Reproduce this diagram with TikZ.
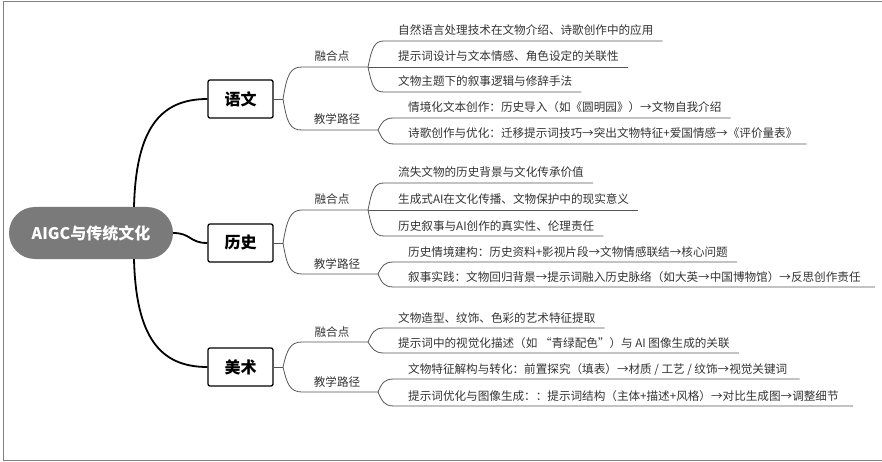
\documentclass[tikz,border=0pt]{standalone}
\usepackage{fontspec}
\setmainfont{Noto Sans CJK SC}
\usetikzlibrary{calc}
\definecolor{txt}{HTML}{333333}
\definecolor{ln}{HTML}{555555}
\definecolor{pillc}{HTML}{7A7A7A}
\definecolor{framec}{HTML}{808080}
\begin{document}
\begin{tikzpicture}[x=1pt,y=-1pt,
  item/.style={font=\fontsize{11.6}{13}\selectfont, text=txt, inner sep=0pt, anchor=base west},
  lab/.style={font=\fontsize{11.6}{13}\selectfont, text=txt, inner sep=0pt, anchor=base},
  subj/.style={draw=black, line width=1.3pt, rounded corners=2pt, fill=white, minimum width=65pt, minimum height=38pt, inner sep=0pt, font=\bfseries\fontsize{16}{18}\selectfont},
  root/.style={fill=pillc, rounded corners=26pt, minimum width=164pt, minimum height=52pt, text=white, font=\bfseries\fontsize{16}{18}\selectfont, inner sep=0pt},
  trunk/.style={line width=1.8pt, black},
  thin/.style={line width=0.8pt, ln},
]
\useasboundingbox (0,0) rectangle (882,462);
\draw[framec, line width=0.9pt] (882,1) -- (3.5,1) -- (3.5,460.5) -- (882,460.5);

% root and subjects
\node[root] (root) at (91,233) {AIGC与传统文化};
\node[subj] (yw) at (240.5,99) {语文};
\node[subj] (ls) at (240.5,243) {历史};
\node[subj] (ms) at (240.5,367) {美术};

\draw[trunk] ([xshift=43pt]root.north) .. controls +(2,-77) and +(-48,0) .. (yw.west);
\draw[trunk] (root.east) .. controls +(18,0) and +(-18,0) .. (ls.west);
\draw[trunk] ([xshift=43pt]root.south) .. controls +(2,77) and +(-48,0) .. (ms.west);

% ================= 语文 =================
\coordinate (yw-j) at (283,99);
\coordinate (yw-rj) at (368,67);
\coordinate (yw-tj) at (378,130);
\draw[thin] (yw.east) -- (yw-j);
\draw[thin] (yw-j) .. controls (287,75) and (290,67) .. (302,67) -- (yw-rj);
\draw[thin] (yw-j) .. controls (287,123) and (290,130) .. (302,130) -- (yw-tj);
\node[lab] (yw-r) at (332,61) {融合点};
\node[lab] (yw-t) at (337,124) {教学路径};

\node[item] (yw1) at (398,35) {自然语言处理技术在文物介绍、诗歌创作中的应用};
\node[item] (yw2) at (398,61) {提示词设计与文本情感、角色设定的关联性};
\node[item] (yw3) at (398,86) {文物主题下的叙事逻辑与修辞手法};
\node[item] (yw4) at (408,112) {情境化文本创作：历史导入（如《圆明园》）→文物自我介绍};
\node[item] (yw5) at (408,138) {诗歌创作与优化：迁移提示词技巧→突出文物特征+爱国情感→《评价量表》};
\draw[thin] (yw-rj) .. controls (372,48) and (374,41) .. (384,41) -- ($(yw1.base east)+(9,6)$);
\draw[thin] (yw-rj) -- ($(yw2.base east)+(9,6)$);
\draw[thin] (yw-rj) .. controls (372,86) and (374,92) .. (384,92) -- ($(yw3.base east)+(9,6)$);
\draw[thin] (yw-tj) .. controls (382,122) and (384,118) .. (394,118) -- ($(yw4.base east)+(9,6)$);
\draw[thin] (yw-tj) .. controls (382,138) and (384,144) .. (394,144) -- ($(yw5.base east)+(9,6)$);

% ================= 历史 =================
\coordinate (ls-j) at (283,243);
\coordinate (ls-rj) at (368,210);
\coordinate (ls-tj) at (378,274);
\draw[thin] (ls.east) -- (ls-j);
\draw[thin] (ls-j) .. controls (287,220) and (290,210) .. (302,210) -- (ls-rj);
\draw[thin] (ls-j) .. controls (287,266) and (290,274) .. (302,274) -- (ls-tj);
\node[lab] (ls-r) at (332,204) {融合点};
\node[lab] (ls-t) at (337,268) {教学路径};

\node[item] (ls1) at (398,177) {流失文物的历史背景与文化传承价值};
\node[item] (ls2) at (398,204) {生成式AI在文化传播、文物保护中的现实意义};
\node[item] (ls3) at (398,230) {历史叙事与AI创作的真实性、伦理责任};
\node[item] (ls4) at (408,256) {历史情境建构：历史资料+影视片段→文物情感联结→核心问题};
\node[item] (ls5) at (408,281) {叙事实践：文物回归背景→提示词融入历史脉络（如大英→中国博物馆）→反思创作责任};
\draw[thin] (ls-rj) .. controls (372,190) and (374,183) .. (384,183) -- ($(ls1.base east)+(9,6)$);
\draw[thin] (ls-rj) -- ($(ls2.base east)+(9,6)$);
\draw[thin] (ls-rj) .. controls (372,229) and (374,236) .. (384,236) -- ($(ls3.base east)+(9,6)$);
\draw[thin] (ls-tj) .. controls (382,266) and (384,262) .. (394,262) -- ($(ls4.base east)+(9,6)$);
\draw[thin] (ls-tj) .. controls (382,283) and (384,287) .. (394,287) -- ($(ls5.base east)+(14,6)$);

% ================= 美术 =================
\coordinate (ms-j) at (283,367);
\coordinate (ms-rj) at (368,342);
\coordinate (ms-tj) at (378,392);
\draw[thin] (ms.east) -- (ms-j);
\draw[thin] (ms-j) .. controls (287,350) and (290,342) .. (302,342) -- (ms-rj);
\draw[thin] (ms-j) .. controls (287,384) and (290,392) .. (302,392) -- (ms-tj);
\node[lab] (ms-r) at (332,336) {融合点};
\node[lab] (ms-t) at (337,386) {教学路径};

\node[item] (ms1) at (398,322) {文物造型、纹饰、色彩的艺术特征提取};
\node[item] (ms2) at (398,347) {提示词中的视觉化描述（如 “青绿配色”）与 AI 图像生成的关联};
\node[item] (ms3) at (408,373) {文物特征解构与转化：前置探究（填表）→材质 / 工艺 / 纹饰→视觉关键词};
\node[item] (ms4) at (408,400) {提示词优化与图像生成：：提示词结构（主体+描述+风格）→对比生成图→调整细节};
\draw[thin] (ms-rj) .. controls (372,333) and (374,328) .. (384,328) -- ($(ms1.base east)+(9,6)$);
\draw[thin] (ms-rj) .. controls (372,348) and (374,353) .. (384,353) -- ($(ms2.base east)+(9,6)$);
\draw[thin] (ms-tj) .. controls (382,383) and (384,379) .. (394,379) -- ($(ms3.base east)+(12,6)$);
\draw[thin] (ms-tj) .. controls (382,401) and (384,406) .. (394,406) -- ($(ms4.base east)+(14,6)$);
\end{tikzpicture}
\end{document}
